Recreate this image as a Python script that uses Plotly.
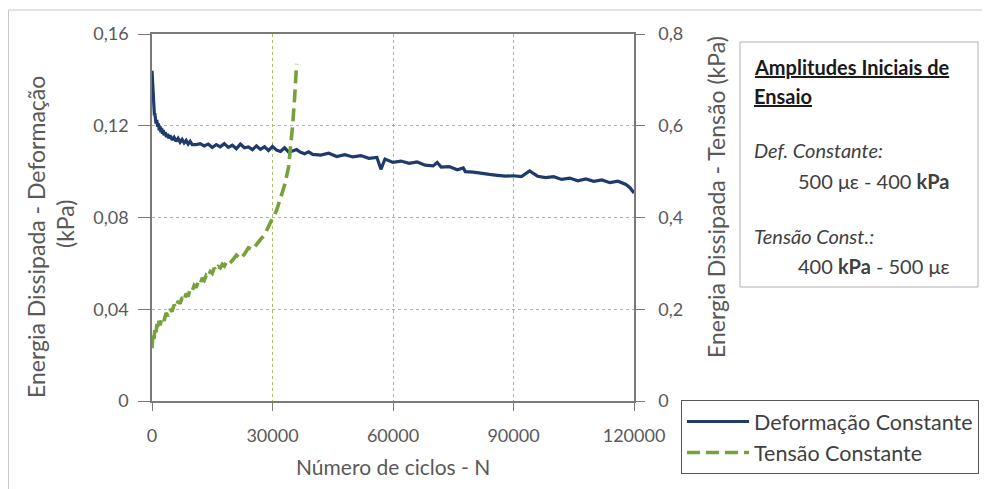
import plotly.graph_objects as go

# ---------------- data ----------------
def_x = [0, 100, 200, 300, 400, 500, 600, 700, 800, 900, 1000, 1200, 1400, 1600, 1800,
         2000, 2200, 2400, 2600, 2800, 3000, 3300, 3600, 3900, 4200, 4500, 5000, 5500,
         6000, 6500, 7000, 7500, 8000, 8500, 9000, 9500, 10000,
         11000, 12000, 13000, 14000, 15000, 16000, 17000, 18000,
         19000, 20000, 21000, 22000, 23000, 24000, 25000, 26000, 27000, 28000, 29000,
         30000, 31000, 32000, 33000, 34000, 35000, 36000, 37000, 38000, 39000, 40000,
         42000, 44000, 46000, 48000, 50000, 52000, 54000, 56000, 57000, 58000, 60000,
         62000, 64000, 66000, 68000, 70000, 71000, 72000, 74000, 76000, 77500, 78000,
         80000, 82000, 84000, 86000, 88000, 90000, 92000, 94000, 96000, 98000, 100000,
         102000, 104000, 106000, 108000, 110000, 112000, 114000, 116000, 118000, 119000,
         120000]
def_y = [0.1440, 0.1400, 0.1330, 0.1300, 0.1270, 0.1275, 0.1245, 0.1255, 0.1225, 0.1240,
         0.1210, 0.1225, 0.1195, 0.1210, 0.1180, 0.1198, 0.1172, 0.1190, 0.1165, 0.1182,
         0.1158, 0.1172, 0.1150, 0.1165, 0.1145, 0.1158, 0.1138, 0.1150, 0.1132, 0.1145,
         0.1128, 0.1140, 0.1125, 0.1136, 0.1120, 0.1132, 0.1118,
         0.1118, 0.1122, 0.1112,
         0.1120, 0.1105, 0.1118, 0.1108, 0.1122, 0.1106, 0.1115, 0.1100, 0.1120, 0.1104,
         0.1108, 0.1096, 0.1112, 0.1097, 0.1108, 0.1092, 0.1110, 0.1094, 0.1088, 0.1104,
         0.1086, 0.1090, 0.1096, 0.1084, 0.1078, 0.1086, 0.1075, 0.1072, 0.1080, 0.1066,
         0.1074, 0.1064, 0.1070, 0.1058, 0.1062, 0.1010, 0.1055, 0.1040, 0.1046, 0.1036,
         0.1042, 0.1028, 0.1025, 0.1040, 0.1020, 0.1022, 0.1008, 0.1016, 0.1000, 0.0998,
         0.0992, 0.0988, 0.0984, 0.0980, 0.0982, 0.0978, 0.1003, 0.0980, 0.0974, 0.0978,
         0.0966, 0.0972, 0.0960, 0.0968, 0.0958, 0.0964, 0.0952, 0.0958, 0.0944, 0.0930,
         0.0907]

ten_x = [0, 250, 500, 750, 1000, 1250, 1500, 1750, 2000, 2500, 3000, 3500, 4000, 4500,
         5000, 5500, 6000, 6500, 7000, 7500, 8000, 8500, 9000, 9500, 10000, 10500, 11000,
         11500, 12000, 12500, 13000, 13500, 14000, 14500, 15000, 15500, 16000, 16500,
         17000, 17500, 18000, 18500, 19000, 20000, 21000, 22000, 23000, 24000, 25000,
         26000, 27000, 28000, 29000, 30000, 31000, 32000, 33000, 34000, 34500, 35000,
         35500, 36000]
ten_y = [0.115, 0.150, 0.135, 0.160, 0.150, 0.168, 0.158, 0.175, 0.165, 0.182, 0.175,
         0.192, 0.185, 0.200, 0.195, 0.210, 0.203, 0.218, 0.212, 0.226, 0.220, 0.234,
         0.228, 0.244, 0.240, 0.252, 0.247, 0.260, 0.255, 0.268, 0.263, 0.274, 0.270,
         0.282, 0.278, 0.290, 0.284, 0.293, 0.290, 0.298, 0.294, 0.302, 0.297, 0.306,
         0.318, 0.310, 0.320, 0.334, 0.330, 0.342, 0.352, 0.362, 0.378, 0.398, 0.415,
         0.442, 0.470, 0.510, 0.550, 0.600, 0.660, 0.735]

x_ticks = [0, 30000, 60000, 90000, 120000]
x_ticktext = ["0", "30000", "60000", "90000", "120000"]
y1_ticks = [0, 0.04, 0.08, 0.12, 0.16]
y1_ticktext = ["0", "0,04", "0,08", "0,12", "0,16"]
y2_ticks = [0, 0.2, 0.4, 0.6, 0.8]
y2_ticktext = ["0", "0,2", "0,4", "0,6", "0,8"]

# ---------------- layout helpers (screen pixel coords) ----------------
OFF = 8                      # page body margin
W, H = 990 - OFF, 489 - OFF  # figure size
L, R, T, B = 152, 634, 34, 401   # plot area in screen pixels
def px(x):
    return (x - L) / (R - L)
def py(y):
    return (B - y) / (B - T)

FONT = "Lato"
GRAY = "#595959"

fig = go.Figure()
fig.add_trace(go.Scatter(x=def_x, y=def_y, mode="lines", name="Deformação Constante",
                         line=dict(color="#1f3b6b", width=3.2), yaxis="y"))
fig.add_trace(go.Scatter(x=ten_x, y=ten_y, mode="lines", name="Tensão Constante",
                         line=dict(color="#77a13a", width=3.6, dash="13px,6px"), yaxis="y2"))

axis_line = "#7a7a7a"
fig.update_layout(
    width=W, height=H,
    margin=dict(l=L - OFF, r=990 - R, t=T - OFF, b=489 - B, autoexpand=False),
    paper_bgcolor="white", plot_bgcolor="white",
    font=dict(family=FONT, color=GRAY, size=18),
    showlegend=True,
    legend=dict(x=px(681), y=py(400), xanchor="left", yanchor="top",
                bgcolor="white", bordercolor="#555555", borderwidth=1,
                font=dict(size=21.5, color="#404040", family=FONT),
                tracegroupgap=0, itemwidth=62),
    xaxis=dict(range=[0, 120000], tickvals=x_ticks, ticktext=x_ticktext,
               showline=True, linecolor=axis_line, linewidth=1.5, mirror=True,
               ticks="outside", ticklen=8, tickcolor=axis_line,
               ticklabelstandoff=10,
               showgrid=True, gridcolor="#a9bd6c", griddash="dot", gridwidth=1,
               zeroline=False, tickfont=dict(size=18, color=GRAY)),
    yaxis=dict(range=[0, 0.16], tickvals=y1_ticks, ticktext=y1_ticktext,
               showline=True, linecolor=axis_line, linewidth=1.5,
               ticks="outside", ticklen=12, tickcolor=axis_line,
               ticklabelstandoff=6,
               showgrid=True, gridcolor="#b0b0b0", griddash="dot", gridwidth=1,
               zeroline=False, tickfont=dict(size=18, color=GRAY)),
    yaxis2=dict(range=[0, 0.8], tickvals=y2_ticks, ticktext=y2_ticktext,
                overlaying="y", side="right",
                showline=True, linecolor=axis_line, linewidth=1.5,
                ticks="outside", ticklen=9, tickcolor=axis_line,
                ticklabelstandoff=10,
                showgrid=False, zeroline=False, tickfont=dict(size=18, color=GRAY)),
)

ann = []
# axis titles
ann.append(dict(text="Energia Dissipada - Deformação", x=px(36), y=py(237),
                textangle=-90, font=dict(size=23, color=GRAY)))
ann.append(dict(text="(kPa)", x=px(65), y=py(224), textangle=-90,
                font=dict(size=23, color=GRAY)))
ann.append(dict(text="Energia Dissipada - Tensão (kPa)", x=px(716), y=py(197),
                textangle=-90, font=dict(size=23, color=GRAY)))
ann.append(dict(text="Número de ciclos - N", x=px(393), y=py(466),
                font=dict(size=21, color=GRAY)))
# text box
ann.append(dict(text="<b><u>Amplitudes Iniciais de</u></b>", x=px(752), y=py(67),
                xanchor="left", font=dict(size=20, color="#1a1a1a")))
ann.append(dict(text="<b><u>Ensaio</u></b>", x=px(752), y=py(96),
                xanchor="left", font=dict(size=20, color="#1a1a1a")))
ann.append(dict(text="<i>Def. Constante:</i>", x=px(752), y=py(150),
                xanchor="left", font=dict(size=20, color="#404040")))
ann.append(dict(text="500 με - 400 <b>kPa</b>", x=px(796), y=py(181),
                xanchor="left", font=dict(size=20, color="#404040")))
ann.append(dict(text="<i>Tensão Const.:</i>", x=px(752), y=py(236),
                xanchor="left", font=dict(size=20, color="#404040")))
ann.append(dict(text="400 <b>kPa</b> - 500 με", x=px(796), y=py(266),
                xanchor="left", font=dict(size=20, color="#404040")))
for a in ann:
    a.update(xref="paper", yref="paper", showarrow=False, yanchor="middle")
    a.setdefault("xanchor", "center")
    a["font"]["family"] = FONT
fig.update_layout(annotations=ann)

fig.update_layout(shapes=[
    dict(type="rect", xref="paper", yref="paper", x0=px(740), x1=px(978),
         y0=py(287), y1=py(42), line=dict(color="#b0b0b0", width=1)),
    dict(type="rect", xref="paper", yref="paper", x0=px(8.5), x1=px(983),
         y0=py(495), y1=py(10), line=dict(color="#c8c8c8", width=1), layer="below"),
])

fig.write_html("out.html")
